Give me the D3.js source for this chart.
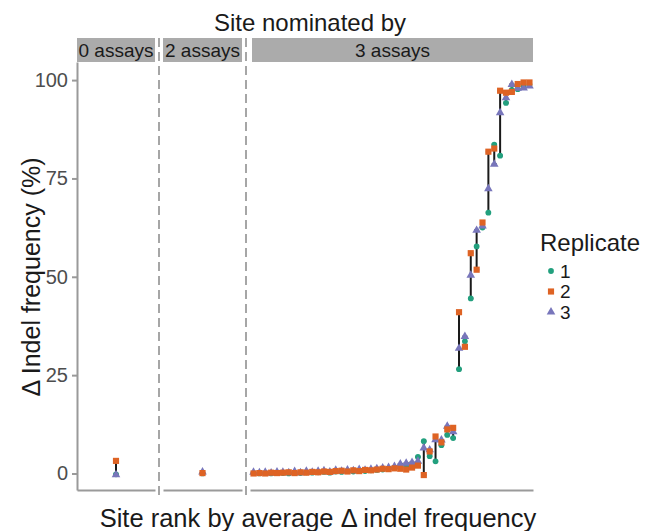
<!DOCTYPE html>
<html lang="en">
<head>
<meta charset="UTF-8">
<title>Indel frequency by site</title>
<script src="https://d3js.org/d3.v7.min.js"></script>
<style>
    body { margin: 0; background: #fff; }
    svg { font-family: "Liberation Sans", Arial, sans-serif; }
    .yaxis .tick text { fill: #4d4d4d; font-size: 20px; }
    .tick line, .domain { stroke: #9a9a9a; stroke-width: 2px; }
</style>
</head>
<body>
<svg width="645" height="531"></svg>
<script>
// facets and how many ranked sites fall in each one
var panels = ["0 assays", "2 assays", "3 assays"];
var sitesPerPanel = [1, 1, 48];

// delta indel frequency (%) per site, in rank order, for each replicate
var rep1 = [-0.2, 0.0,
    0.1, 0.0, 0.1, 0.0, 0.2, 0.1, 0.0, 0.2, 0.1, 0.3,
    0.2, 0.3, 0.4, 0.2, 0.5, 0.4, 0.6, 0.5, 0.7, 0.6,
    0.8, 0.9, 1.0, 1.2, 1.4, 1.5, 1.8, 1.6, 4.2, 8.2,
    4.4, 3.1, 7.2, 9.8, 9.0, 26.5, 33.6, 44.5, 57.7, 62.5,
    66.3, 83.6, 80.8, 94.2, 97.5, 97.7, 98.4, 98.8];
var rep2 = [3.2, 0.1,
    0.0, 0.1, 0.0, 0.2, 0.1, 0.2, 0.3, 0.1, 0.3, 0.2,
    0.4, 0.3, 0.5, 0.4, 0.6, 0.7, 0.5, 0.8, 0.6, 0.9,
    0.8, 1.0, 1.2, 1.1, 1.3, 1.2, 1.0, 1.5, 2.0, -0.4,
    5.6, 9.4, 7.9, 11.2, 11.6, 41.0, 32.2, 56.0, 51.8, 63.8,
    81.8, 82.6, 97.3, 96.8, 97.0, 99.0, 99.4, 99.4];
var rep3 = [-0.3, 0.4,
    0.3, 0.2, 0.3, 0.1, 0.4, 0.3, 0.2, 0.5, 0.2, 0.6,
    0.3, 0.6, 0.7, 0.4, 0.8, 0.6, 0.9, 0.7, 1.0, 0.8,
    1.1, 1.2, 1.4, 1.5, 1.8, 2.4, 2.6, 2.8, 3.1, 6.5,
    6.0, 8.6, 8.5, 12.0, 10.6, 31.8, 34.8, 50.4, 61.8, 62.9,
    72.4, 78.6, 91.7, 95.5, 98.9, 97.9, 98.0, 98.5];

var replicates = ["1", "2", "3"];
var colors = ["#22a07e", "#de6324", "#7876bb"];
var shapes = [d3.symbolCircle, d3.symbolSquare, d3.symbolTriangle];
var shapeSize = [26, 38, 32];
var drawOrder = [0, 2, 1];   // orange squares end up on top
var yTicks = [0, 25, 50, 75, 100];

var svg = d3.select("svg");

var panelX = [[77, 155], [163, 242], [250, 533]];
var panelTop = 62, panelBottom = 490;

var y = d3.scaleLinear().domain([-4.2, 104.6]).range([panelBottom, panelTop]);

// one row per site, with its facet and the three replicate values
var rows = [];
var k = 0;
sitesPerPanel.forEach(function (n, p) {
    for (var j = 0; j < n; j++) {
        rows.push({ panel: p, rank: j, vals: [rep1[k], rep2[k], rep3[k]] });
        k++;
    }
});

var xScales = sitesPerPanel.map(function (n, p) {
    return d3.scalePoint().domain(d3.range(n)).range(panelX[p]).padding(0.6);
});
function xOf(d) { return xScales[d.panel](d.rank); }

// strips
var strips = svg.append("g").selectAll("g").data(panels).enter().append("g");
strips.append("rect")
    .attr("x", (d, i) => panelX[i][0] + (i == 2 ? 2 : 0))
    .attr("y", 38)
    .attr("width", (d, i) => panelX[i][1] - panelX[i][0] - (i == 2 ? 2 : 0))
    .attr("height", 24)
    .attr("fill", "#ababab");
strips.append("text")
    .attr("x", (d, i) => (panelX[i][0] + panelX[i][1]) / 2 + (i == 2 ? 1 : 0))
    .attr("y", 50)
    .attr("dy", "0.36em")
    .attr("text-anchor", "middle")
    .attr("font-size", 19)
    .attr("fill", "#1a1a1a")
    .text(d => d);

svg.append("text")
    .attr("x", 310).attr("y", 31)
    .attr("text-anchor", "middle")
    .attr("font-size", 24)
    .attr("fill", "#1a1a1a")
    .text("Site nominated by");

// dashed separators between facets
svg.append("g").selectAll("line").data([159, 246]).enter().append("line")
    .attr("x1", d => d).attr("x2", d => d)
    .attr("y1", 38).attr("y2", 497)
    .attr("stroke", "#a6a6a6")
    .attr("stroke-width", 2)
    .attr("stroke-dasharray", "9,5");

// axes
svg.append("g").attr("class", "yaxis")
    .attr("transform", "translate(77,0)")
    .call(d3.axisLeft(y).tickValues(yTicks).tickSize(5).tickSizeOuter(0).tickPadding(4));

xScales.forEach(function (sc) {
    svg.append("g")
        .attr("transform", "translate(0," + panelBottom + ")")
        .call(d3.axisBottom(sc).tickSize(0).tickFormat(""));
});

// min-max bars across replicates
var bars = svg.append("g").selectAll("g").data(rows).enter().append("g")
    .attr("stroke", "#1a1a1a").attr("stroke-width", 2);
bars.append("line")
    .attr("x1", xOf).attr("x2", xOf)
    .attr("y1", d => y(d3.min(d.vals))).attr("y2", d => y(d3.max(d.vals)));
bars.append("line")
    .attr("x1", d => xOf(d) - 2.5).attr("x2", d => xOf(d) + 2.5)
    .attr("y1", d => y(d3.max(d.vals))).attr("y2", d => y(d3.max(d.vals)));
bars.append("line")
    .attr("x1", d => xOf(d) - 2.5).attr("x2", d => xOf(d) + 2.5)
    .attr("y1", d => y(d3.min(d.vals))).attr("y2", d => y(d3.min(d.vals)));

// points, one layer per replicate
drawOrder.forEach(function (ri) {
    svg.append("g").selectAll("path").data(rows).enter().append("path")
        .attr("d", d3.symbol().type(shapes[ri]).size(shapeSize[ri]))
        .attr("transform", d => "translate(" + xOf(d) + "," + y(d.vals[ri]) + ")")
        .attr("fill", colors[ri]);
});

// axis titles
svg.append("text")
    .attr("transform", "translate(31,277) rotate(-90)")
    .attr("dy", "0.36em")
    .attr("text-anchor", "middle")
    .attr("font-size", 25)
    .attr("fill", "#1a1a1a")
    .text("Δ Indel frequency (%)");

svg.append("text")
    .attr("x", 318).attr("y", 527)
    .attr("text-anchor", "middle")
    .attr("font-size", 25.5)
    .attr("fill", "#1a1a1a")
    .text("Site rank by average Δ indel frequency");

// legend
var legend = svg.append("g");
legend.append("text")
    .attr("x", 540).attr("y", 251)
    .attr("font-size", 24)
    .attr("fill", "#1a1a1a")
    .text("Replicate");
var items = legend.selectAll("g.item").data(replicates).enter().append("g")
    .attr("class", "item")
    .attr("transform", (d, i) => "translate(551," + (271 + i * 20.5) + ")");
items.append("path")
    .attr("d", (d, i) => d3.symbol().type(shapes[i]).size(shapeSize[i])())
    .attr("fill", (d, i) => colors[i]);
items.append("text")
    .attr("x", 9)
    .attr("dy", "0.36em")
    .attr("font-size", 19)
    .attr("fill", "#1a1a1a")
    .text(d => d);
</script>
</body>
</html>
